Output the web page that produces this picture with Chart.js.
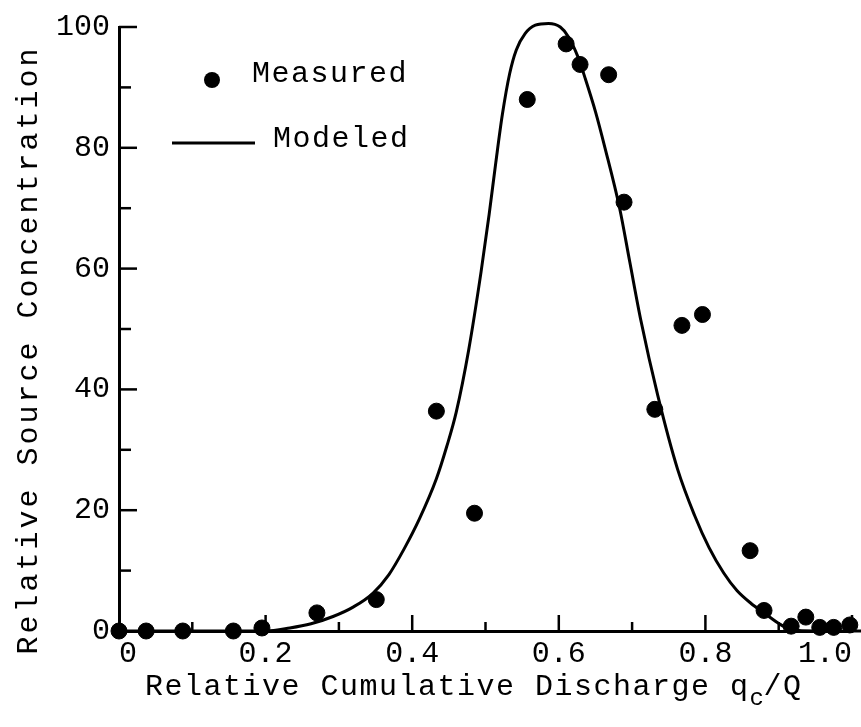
<!DOCTYPE html>
<html>
<head>
<meta charset="utf-8">
<script src="https://cdn.jsdelivr.net/npm/chart.js@4"></script>
<style>
body{margin:0;background:#fff;}
#myChart{display:block;}
</style>
</head>
<body>
<canvas id="myChart" width="861" height="727"></canvas>
<script>
// measured points
var medidoX = [0.0, 0.037, 0.087, 0.156, 0.195, 0.27, 0.351, 0.433, 0.485, 0.557, 0.61, 0.629, 0.668, 0.689, 0.731, 0.768, 0.796, 0.861, 0.88, 0.917, 0.937, 0.956, 0.975, 0.997];
var medidoY = [0, 0, 0, 0, 0.5, 3, 5.2, 36.4, 19.5, 88, 97.2, 93.8, 92.1, 71, 36.7, 50.6, 52.4, 13.3, 3.4, 0.8, 2.3, 0.6, 0.6, 1];
// modeled curve
var modeloX = [0, 0.1, 0.2, 0.233, 0.262, 0.292, 0.32, 0.346, 0.368, 0.389, 0.41, 0.433, 0.447, 0.46, 0.477, 0.494, 0.505, 0.514, 0.523, 0.533, 0.542, 0.554, 0.568, 0.586, 0.602, 0.613, 0.626, 0.636, 0.65, 0.663, 0.683, 0.697, 0.712, 0.735, 0.762, 0.785, 0.805, 0.825, 0.843, 0.862, 0.88, 0.902, 0.918, 0.95, 1.0];
var modeloY = [0, 0, 0, 0.5, 1.2, 2.4, 4.0, 6.2, 9.3, 13.6, 18.6, 25.2, 30.5, 36.2, 46.5, 59.5, 69, 77.5, 85.5, 92.3, 96.2, 98.9, 100.3, 100.6, 100, 98.4, 95.1, 91.5, 86, 80, 70, 61, 51.4, 39, 26.8, 19.2, 13.8, 9.6, 6.7, 4.6, 3, 1.1, 0.2, 0, 0];
var ticksX = [0, 0.2, 0.4, 0.6, 0.8, 1.0];
var ticksY = [0, 20, 40, 60, 80, 100];

var fuente = "'Liberation Mono', 'DejaVu Sans Mono', monospace";

function puntos(xs, ys){
	var res = new Array();
	for(var i = 0;i<xs.length;i++){
		res.push({x: xs[i], y: ys[i]});
	}
	return res;
}

// inward tick marks, legend and axis titles
var extras = {
	id: 'extras',
	beforeDraw: function(chart){
		var ctx = chart.ctx;
		ctx.save();
		ctx.fillStyle = '#fff';
		ctx.fillRect(0, 0, chart.width, chart.height);
		ctx.restore();
	},
	afterDraw: function(chart){
		var ctx = chart.ctx;
		var xs = chart.scales.x, ys = chart.scales.y;
		var area = chart.chartArea;
		ctx.save();
		ctx.strokeStyle = '#000';
		ctx.lineWidth = 2.5;
		// y ticks every 10, longer at 20s
		for(var v = 10; v <= 100; v += 10){
			var py = ys.getPixelForValue(v);
			var len = (v % 20 == 0) ? 18 : 12;
			ctx.beginPath();
			ctx.moveTo(area.left, py);
			ctx.lineTo(area.left + len, py);
			ctx.stroke();
		}
		// x ticks every 0.1
		for(var k = 1; k <= 10; k++){
			var px = xs.getPixelForValue(k / 10);
			var l2 = (k % 2 == 0) ? 16 : 9;
			ctx.beginPath();
			ctx.moveTo(px, area.bottom);
			ctx.lineTo(px, area.bottom - l2);
			ctx.stroke();
		}
		// axis line runs on to the edge of the page
		ctx.lineWidth = 3;
		ctx.beginPath();
		ctx.moveTo(area.right, area.bottom);
		ctx.lineTo(chart.width, area.bottom);
		ctx.stroke();

		// legend
		var ds = chart.data.datasets;
		ctx.fillStyle = '#000';
		ctx.font = "30px " + fuente;
		ctx.letterSpacing = '1.5px';
		ctx.textBaseline = 'middle';
		ctx.textAlign = 'left';
		ctx.beginPath();
		ctx.arc(212, 80, 8, 0, Math.PI * 2);
		ctx.fillStyle = ds[0].backgroundColor;
		ctx.fill();
		ctx.fillStyle = '#000';
		ctx.fillText(ds[0].label, 252, 74);
		ctx.beginPath();
		ctx.strokeStyle = ds[1].borderColor;
		ctx.lineWidth = 3;
		ctx.moveTo(172, 143);
		ctx.lineTo(255, 143);
		ctx.stroke();
		ctx.fillText(ds[1].label, 273, 139);

		// x axis title with subscript
		ctx.textBaseline = 'alphabetic';
		var t1 = 'Relative Cumulative Discharge q';
		var x0 = 145, base = 695;
		ctx.fillText(t1, x0, base);
		x0 += ctx.measureText(t1).width;
		ctx.font = "24px " + fuente;
		ctx.fillText('c', x0, base + 10);
		x0 += ctx.measureText('c').width - 2;
		ctx.font = "30px " + fuente;
		ctx.fillText('/Q', x0, base);

		// y axis title
		ctx.letterSpacing = '3px';
		ctx.translate(37, 350);
		ctx.rotate(-Math.PI / 2);
		ctx.textAlign = 'center';
		ctx.fillText('Relative Source Concentration', 0, 0);
		ctx.restore();
	}
};

function crearGrafico(){
	new Chart(document.getElementById("myChart"), {
		type: 'scatter',
		data: {
			datasets: [{
				label: 'Measured',
				data: puntos(medidoX, medidoY),
				backgroundColor: '#000',
				borderColor: '#000',
				pointRadius: 8,
				pointHoverRadius: 8,
				clip: false
			}, {
				label: 'Modeled',
				data: puntos(modeloX, modeloY),
				showLine: true,
				borderColor: '#000',
				borderWidth: 3,
				pointRadius: 0,
				cubicInterpolationMode: 'monotone',
				fill: false,
				clip: false
			}]
		},
		options: {
			responsive: false,
			animation: false,
			events: [],
			layout: { padding: { top: 20, right: 5, left: 0, bottom: 0 } },
			plugins: {
				legend: { display: false },
				tooltip: { enabled: false }
			},
			scales: {
				x: {
					type: 'linear',
					min: 0,
					max: 1,
					afterBuildTicks: function(axis){
						axis.ticks = ticksX.map(function(v){ return {value: v}; });
					},
					afterFit: function(axis){ axis.height = 96; },
					grid: { display: false, drawTicks: false },
					border: { display: true, color: '#000', width: 3 },
					ticks: {
						color: '#000',
						align: 'inner',
						padding: 5,
						font: { family: fuente, size: 30 },
						callback: function(v){ return v == 0 ? '0' : v.toFixed(1); }
					}
				},
				y: {
					min: 0,
					max: 100,
					afterBuildTicks: function(axis){
						axis.ticks = ticksY.map(function(v){ return {value: v}; });
					},
					afterFit: function(axis){ axis.width = 119; },
					grid: { display: false, drawTicks: false },
					border: { display: true, color: '#000', width: 3 },
					ticks: {
						color: '#000',
						padding: 9,
						font: { family: fuente, size: 30 }
					}
				}
			}
		},
		plugins: [extras]
	});
}
crearGrafico();
</script>
</body>
</html>
